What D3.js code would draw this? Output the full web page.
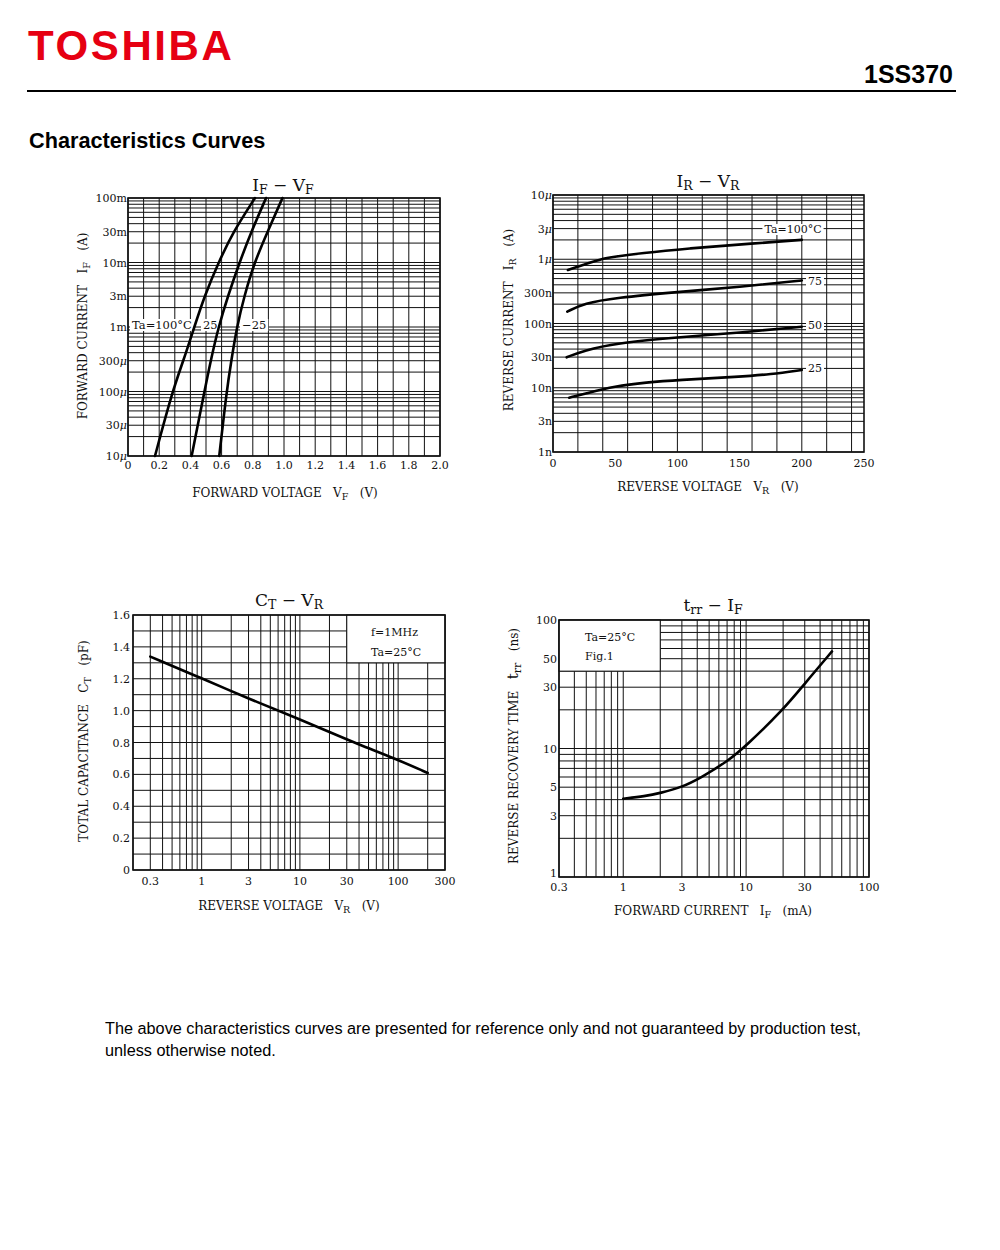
<!DOCTYPE html>
<html><head><meta charset="utf-8">
<script src="https://cdn.jsdelivr.net/npm/d3@7"></script>
<style>body{margin:0;background:#fff} svg{display:block}</style>
</head><body><svg id="c" width="1000" height="1250"></svg>
<script>
// ---------------- DATA ----------------
// IF - VF
const ifvfCurrent = [1e-5, 1e-4, 3e-4, 1e-3, 3e-3, 1e-2, 3e-2, 1e-1];
const ifvfVF100 = [0.173, 0.284, 0.355, 0.425, 0.49, 0.58, 0.675, 0.814];
const ifvfVF25  = [0.408, 0.49, 0.53, 0.58, 0.64, 0.715, 0.79, 0.885];
const ifvfVFm25 = [0.585, 0.632, 0.662, 0.698, 0.745, 0.81, 0.895, 0.99];
const ifvfXTicks = [0, 0.2, 0.4, 0.6, 0.8, 1.0, 1.2, 1.4, 1.6, 1.8, 2.0];
const ifvfXLabels = ["0", "0.2", "0.4", "0.6", "0.8", "1.0", "1.2", "1.4", "1.6", "1.8", "2.0"];
const ifvfYTicks = [1e-5, 3e-5, 1e-4, 3e-4, 1e-3, 3e-3, 1e-2, 3e-2, 1e-1];
const ifvfYLabels = ["10μ", "30μ", "100μ", "300μ", "1m", "3m", "10m", "30m", "100m"];

// IR - VR
const irvrVR100 = [12, 25.7, 37.8, 49.8, 69.9, 110, 150, 200];
const irvrIR100 = [0.68e-6, 0.834e-6, 1.0e-6, 1.096e-6, 1.24e-6, 1.48e-6, 1.70e-6, 2.0e-6];
const irvrVR75 = [11.5, 25, 50, 100, 150, 200];
const irvrIR75 = [153e-9, 206e-9, 251e-9, 310e-9, 370e-9, 467e-9];
const irvrVR50 = [11, 25, 50, 100, 150, 200];
const irvrIR50 = [29.8e-9, 38e-9, 49e-9, 61e-9, 72e-9, 89e-9];
const irvrVR25 = [13, 25, 50, 75, 100, 150, 175, 200];
const irvrIR25 = [7.0e-9, 8.0e-9, 10.6e-9, 12.1e-9, 13.2e-9, 14.8e-9, 16.2e-9, 18.9e-9];
const irvrXTicks = [0, 50, 100, 150, 200, 250];
const irvrYTicks = [1e-9, 3e-9, 1e-8, 3e-8, 1e-7, 3e-7, 1e-6, 3e-6, 1e-5];
const irvrYLabels = ["1n", "3n", "10n", "30n", "100n", "300n", "1μ", "3μ", "10μ"];

// CT - VR
const ctVR = [0.3, 1, 3, 10, 20, 40, 90, 200];
const ctCT = [1.339, 1.203, 1.075, 0.945, 0.866, 0.787, 0.703, 0.609];
const ctXTicks = [0.3, 1, 3, 10, 30, 100, 300];
const ctXLabels = ["0.3", "1", "3", "10", "30", "100", "300"];
const ctYTicks = [0, 0.2, 0.4, 0.6, 0.8, 1.0, 1.2, 1.4, 1.6];
const ctYLabels = ["0", "0.2", "0.4", "0.6", "0.8", "1.0", "1.2", "1.4", "1.6"];

// trr - IF
const trrIF = [1, 1.5, 2, 3, 4.25, 7, 10, 20, 30, 50];
const trrT  = [4.07, 4.25, 4.5, 5.0, 5.9, 7.9, 10.5, 20, 32, 57];
const trrXTicks = [0.3, 1, 3, 10, 30, 100];
const trrXLabels = ["0.3", "1", "3", "10", "30", "100"];
const trrYTicks = [1, 3, 5, 10, 30, 50, 100];
const trrYLabels = ["1", "3", "5", "10", "30", "50", "100"];

// ---------------- DRAW ----------------
const svg = d3.select("#c");
const SERIF = "'DejaVu Serif', 'Liberation Serif', serif";
const SANS = "'Liberation Sans', Arial, sans-serif";
const INK = "#111";

// header
svg.append("text").attr("x", 28).attr("y", 60).attr("font-family", SANS).attr("font-weight", "bold")
  .attr("font-size", 42).attr("letter-spacing", 2.6).attr("fill", "#e60012").text("TOSHIBA");
svg.append("text").attr("x", 953).attr("y", 83).attr("text-anchor", "end").attr("font-family", SANS)
  .attr("font-weight", "bold").attr("font-size", 25).attr("fill", "#000").text("1SS370");
svg.append("line").attr("x1", 27).attr("x2", 956).attr("y1", 91).attr("y2", 91).attr("stroke", "#000").attr("stroke-width", 2);
svg.append("text").attr("x", 29).attr("y", 148).attr("font-family", SANS).attr("font-weight", "bold")
  .attr("font-size", 21.7).attr("fill", "#000").text("Characteristics Curves");

// footer
svg.append("text").attr("x", 105).attr("y", 1034).attr("font-family", SANS).attr("font-size", 16.25)
  .text("The above characteristics curves are presented for reference only and not guaranteed by production test,");
svg.append("text").attr("x", 105).attr("y", 1056).attr("font-family", SANS).attr("font-size", 16.25)
  .text("unless otherwise noted.");

// helpers
function rich(parent, x, y, parts, anchor, rotate) {
  const t = parent.append("text").attr("text-anchor", anchor || "middle").attr("font-family", SERIF)
    .attr("fill", INK).style("white-space", "pre")
    .attr("transform", rotate ? `translate(${x},${y}) rotate(-90)` : `translate(${x},${y})`);
  let cur = 0;
  parts.forEach(([s, fs, shift]) => {
    const ts = t.append("tspan").attr("font-size", fs).text(s);
    if (shift !== cur) { ts.attr("dy", shift - cur); cur = shift; }
  });
  return t;
}
function frame(g, x, y, xGrid, yGrid) {
  const [x0, x1] = x.range(), [yb, yt] = y.range();
  g.append("g").selectAll("line").data(xGrid).join("line")
    .attr("x1", d => x(d)).attr("x2", d => x(d)).attr("y1", yb).attr("y2", yt)
    .attr("stroke", INK).attr("stroke-width", 1);
  g.append("g").selectAll("line").data(yGrid).join("line")
    .attr("x1", x0).attr("x2", x1).attr("y1", d => y(d)).attr("y2", d => y(d))
    .attr("stroke", INK).attr("stroke-width", 1);
}
function border(g, x, y) {
  const [x0, x1] = x.range(), [yb, yt] = y.range();
  g.append("rect").attr("x", x0).attr("y", yt).attr("width", x1 - x0).attr("height", yb - yt)
    .attr("fill", "none").attr("stroke", INK).attr("stroke-width", 1.6);
}
function tickText(sel, s) {
  s.split(/(μ)/).filter(p => p.length).forEach(p => {
    const ts = sel.append("tspan").text(p);
    if (p === "μ") ts.attr("font-style", "italic");
  });
}
function xLabels(g, x, vals, labs, yy) {
  g.append("g").selectAll("text").data(vals).join("text")
    .attr("x", d => x(d)).attr("y", yy).attr("text-anchor", "middle")
    .attr("font-family", SERIF).attr("font-size", 11).attr("fill", INK).text((d, i) => labs[i]);
}
function yLabels(g, y, vals, labs, xx, dyFn) {
  g.append("g").selectAll("text").data(vals).join("text")
    .attr("x", xx).attr("y", (d, i) => y(d) + (dyFn ? dyFn(i) : 4)).attr("text-anchor", "end")
    .attr("font-family", SERIF).attr("font-size", 11).attr("fill", INK)
    .each(function (d, i) { tickText(d3.select(this), labs[i]); });
}
function curve(g, pts, x, y, kind) {
  g.append("path").datum(pts)
    .attr("d", d3.line().x(d => x(d[0])).y(d => y(d[1])).curve(kind || d3.curveMonotoneX))
    .attr("fill", "none").attr("stroke", "#000").attr("stroke-width", 2.6).attr("stroke-linecap", "round");
}
function whiteText(g, x, yb, txt, fs, anchor, pad) {
  const t = g.append("text").attr("x", x).attr("y", yb).attr("text-anchor", anchor || "start")
    .attr("font-family", SERIF).attr("font-size", fs || 11).attr("fill", INK).text(txt);
  const bb = t.node().getBBox();
  const p = pad == null ? 2 : pad;
  g.insert("rect", () => t.node()).attr("x", bb.x - p).attr("y", bb.y + 1).attr("width", bb.width + 2 * p)
    .attr("height", bb.height - 2).attr("fill", "#fff");
  return t;
}
const TS = 17, SS = 12.5, AL = 12, AS = 9.5;

// ===== Chart A: IF - VF =====
{
  const g = svg.append("g");
  const x = d3.scaleLinear().domain([0, 2]).range([128, 440]);
  const y = d3.scaleLog().domain([1e-5, 1e-1]).range([456, 198]);
  frame(g, x, y, x.ticks(20), y.ticks());
  border(g, x, y);
  xLabels(g, x, ifvfXTicks, ifvfXLabels, 469);
  yLabels(g, y, ifvfYTicks, ifvfYLabels, 127);
  whiteText(g, 132, 329, "Ta=100°C", 11.5);
  whiteText(g, 203, 329, "25", 11.5);
  whiteText(g, 242, 329, "−25", 11.5);
  [ifvfVF100, ifvfVF25, ifvfVFm25].forEach(vf =>
    curve(g, vf.map((v, i) => [v, ifvfCurrent[i]]), x, y, d3.curveBasis));
  rich(g, 283, 191, [["I", TS, 0], ["F", SS, 3], [" − ", TS, 0], ["V", TS, 0], ["F", SS, 3]]);
  rich(g, 285, 497, [["FORWARD VOLTAGE   V", AL, 0], ["F", AS, 3], ["   (V)", AL, 0]]);
  rich(g, 87, 326, [["FORWARD CURRENT   I", AL, 0], ["F", AS, 3], ["   (A)", AL, 0]], "middle", true);
}

// ===== Chart B: IR - VR =====
{
  const g = svg.append("g");
  const x = d3.scaleLinear().domain([0, 250]).range([553, 864]);
  const y = d3.scaleLog().domain([1e-9, 1e-5]).range([452, 195]);
  frame(g, x, y, x.ticks(10), y.ticks());
  border(g, x, y);
  xLabels(g, x, irvrXTicks, irvrXTicks.map(String), 467);
  yLabels(g, y, irvrYTicks, irvrYLabels, 552);
  whiteText(g, 793, 233, "Ta=100°C", 11, "middle");
  whiteText(g, 815, 285, "75", 11, "middle");
  whiteText(g, 815, 329, "50", 11, "middle");
  whiteText(g, 815, 372, "25", 11, "middle");
  curve(g, irvrVR100.map((v, i) => [v, irvrIR100[i]]), x, y, d3.curveBasis);
  curve(g, irvrVR75.map((v, i) => [v, irvrIR75[i]]), x, y, d3.curveBasis);
  curve(g, irvrVR50.map((v, i) => [v, irvrIR50[i]]), x, y, d3.curveBasis);
  curve(g, irvrVR25.map((v, i) => [v, irvrIR25[i]]), x, y, d3.curveBasis);
  rich(g, 708, 187, [["I", TS, 0], ["R", SS, 3], [" − ", TS, 0], ["V", TS, 0], ["R", SS, 3]]);
  rich(g, 708, 491, [["REVERSE VOLTAGE   V", AL, 0], ["R", AS, 3], ["   (V)", AL, 0]]);
  rich(g, 513, 320, [["REVERSE CURRENT   I", AL, 0], ["R", AS, 3], ["   (A)", AL, 0]], "middle", true);
}

// ===== Chart C: CT - VR =====
{
  const g = svg.append("g");
  const x = d3.scaleLog().domain([0.2, 300]).range([133, 445]);
  const y = d3.scaleLinear().domain([0, 1.6]).range([870, 615]);
  frame(g, x, y, x.ticks(), y.ticks(16));
  g.append("rect").attr("x", x(30)).attr("y", y(1.6)).attr("width", x(300) - x(30)).attr("height", y(1.3) - y(1.6))
    .attr("fill", "#fff").attr("stroke", INK).attr("stroke-width", 1);
  g.append("text").attr("x", 371).attr("y", 636).attr("font-family", SERIF).attr("font-size", 11).attr("fill", INK).text("f=1MHz");
  g.append("text").attr("x", 371).attr("y", 656).attr("font-family", SERIF).attr("font-size", 11).attr("fill", INK).text("Ta=25°C");
  border(g, x, y);
  xLabels(g, x, ctXTicks, ctXLabels, 885);
  yLabels(g, y, ctYTicks, ctYLabels, 130);
  curve(g, ctVR.map((v, i) => [v, ctCT[i]]), x, y, d3.curveBasis);
  rich(g, 289, 606, [["C", TS, 0], ["T", SS, 3], [" − ", TS, 0], ["V", TS, 0], ["R", SS, 3]]);
  rich(g, 289, 910, [["REVERSE VOLTAGE   V", AL, 0], ["R", AS, 3], ["   (V)", AL, 0]]);
  rich(g, 88, 741, [["TOTAL CAPACITANCE   C", AL, 0], ["T", AS, 3], ["   (pF)", AL, 0]], "middle", true);
}

// ===== Chart D: trr - IF =====
{
  const g = svg.append("g");
  const x = d3.scaleLog().domain([0.3, 100]).range([559, 869]);
  const y = d3.scaleLog().domain([1, 100]).range([877, 620]);
  frame(g, x, y, x.ticks(), y.ticks());
  g.append("rect").attr("x", x(0.3)).attr("y", y(100)).attr("width", x(2) - x(0.3)).attr("height", y(40) - y(100))
    .attr("fill", "#fff").attr("stroke", INK).attr("stroke-width", 1);
  g.append("text").attr("x", 585).attr("y", 641).attr("font-family", SERIF).attr("font-size", 11).attr("fill", INK).text("Ta=25°C");
  g.append("text").attr("x", 585).attr("y", 660).attr("font-family", SERIF).attr("font-size", 11).attr("fill", INK).text("Fig.1");
  border(g, x, y);
  xLabels(g, x, trrXTicks, trrXLabels, 891);
  yLabels(g, y, trrYTicks, trrYLabels, 557, i => (i === 0 ? 0 : 4));
  curve(g, trrIF.map((v, i) => [v, trrT[i]]), x, y, d3.curveBasis);
  rich(g, 713, 611, [["t", TS, 0], ["rr", SS, 3], [" − ", TS, 0], ["I", TS, 0], ["F", SS, 3]]);
  rich(g, 713, 915, [["FORWARD CURRENT   I", AL, 0], ["F", AS, 3], ["   (mA)", AL, 0]]);
  rich(g, 518, 746, [["REVERSE RECOVERY TIME   ", AL, 0], ["t", 15, 0], ["rr", 11, 3], ["   (ns)", AL, 0]], "middle", true);
}
</script>
</body></html>
